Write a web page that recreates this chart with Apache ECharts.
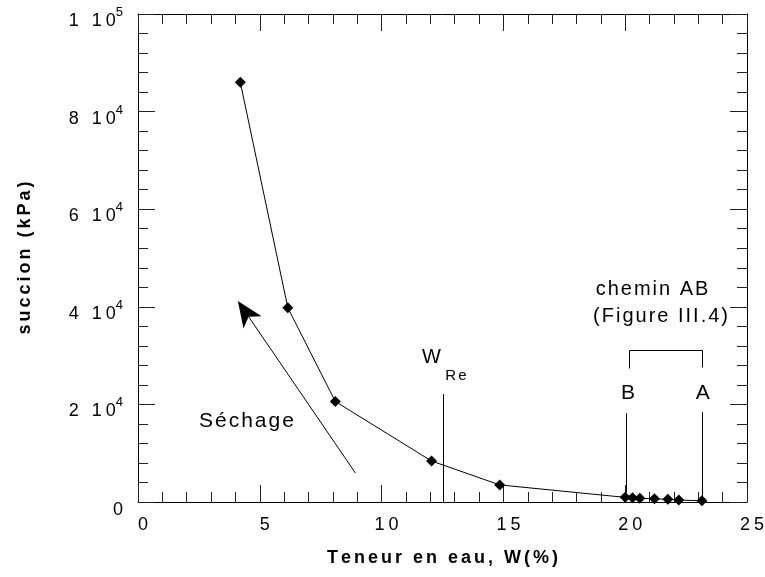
<!DOCTYPE html>
<html>
<head>
<meta charset="utf-8">
<script src="https://cdn.jsdelivr.net/npm/echarts@6/dist/echarts.min.js"></script>
<style>
  html, body { margin: 0; padding: 0; background: #fff; }
  #chart { width: 765px; height: 577px; }
</style>
</head>
<body>
<div id="chart"></div>
<script>
// Courbe de rétention : succion en fonction de la teneur en eau (séchage)
const teneurEau = [4.2, 6.15, 8.1, 12.05, 14.85, 20.0, 20.3, 20.6, 21.2, 21.75, 22.2, 23.15];
const succion   = [86000, 39800, 20600, 8400, 3500, 950, 850, 750, 650, 550, 400, 250];

// Graduations de l'axe des succions, écrites "m 10^e"
const yTickValues   = [0, 20000, 40000, 60000, 80000, 100000];
const yTickMantissa = ['0', '2', '4', '6', '8', '1'];
const yTickExponent = ['', '4', '4', '4', '4', '5'];

// Annotations, en unités (W %, kPa)
const wReLine   = [[12.5, 0], [12.5, 22100]];
const bLine     = [[20.05, 1900], [20.05, 18200]];
const aLine     = [[23.15, 1200], [23.15, 18400]];
const bracketAB = [[20.15, 27400], [20.15, 31100], [23.15, 31100], [23.15, 27600]];
const arrowTail = [8.93, 5900];
const arrowTip  = [4.1, 41200];
const textLabels = [
  { text: 'W',             at: [12.05, 29600], size: 20 },
  { text: 'Re',            at: [13.05, 25900], size: 15 },
  { text: 'B',             at: [20.12, 22300], size: 21 },
  { text: 'A',             at: [23.18, 22300], size: 21 },
  { text: 'chemin AB',     at: [21.1, 43600],  size: 20 },
  { text: '(Figure III.4)', at: [21.45, 38100], size: 20 },
  { text: 'Séchage',       at: [4.45, 16600],  size: 21 }
];

const FONT = "'Liberation Sans', Arial, Helvetica, sans-serif";

// Texte espacé : un fragment riche par caractère, avec un espace à droite
function spaced(str, key) {
  const chars = Array.from(str);
  return chars.map((c, i) => '{' + key + (i === chars.length - 1 ? 'E' : '') + '|' + c + '}').join('');
}
function spacedRich(key, base, ls) {
  const r = {};
  r[key] = Object.assign({}, base, { padding: [0, ls, 0, 0] });
  r[key + 'E'] = Object.assign({}, base);
  return r;
}

const tickBase = { fontSize: 18, fontFamily: FONT, color: '#000', verticalAlign: 'bottom' };
const yRich = Object.assign(
  spacedRich('t', tickBase, 4),
  {
    sup: { fontSize: 13, fontFamily: FONT, color: '#000', verticalAlign: 'bottom', padding: [0, 0, 11, 0] },
    z: Object.assign({}, tickBase, { padding: [8, 0, 0, 0] })
  }
);
const xRich = spacedRich('x', { fontSize: 18, fontFamily: FONT, color: '#000' }, 4);
const nameRich = spacedRich('n', { fontSize: 18, fontWeight: 'bold', fontFamily: FONT, color: '#000' }, 3);

const axisLineStyle = { show: true, onZero: false, lineStyle: { color: '#000', width: 1 } };
const majorTick = { show: true, inside: true, length: 17, lineStyle: { color: '#222', width: 1 } };
const minorTick = { show: true, splitNumber: 5, length: 10, lineStyle: { color: '#222', width: 1 } };

function yLabel(v) {
  const i = yTickValues.indexOf(v);
  if (i < 0) return '';
  if (!yTickExponent[i]) return '{z|' + yTickMantissa[i] + '}';
  return spaced(yTickMantissa[i] + ' 10', 't') + '{sup|' + yTickExponent[i] + '}';
}

function zrRich(size) {
  const base = { fontSize: size, fontFamily: FONT, fill: '#000', color: '#000' };
  return spacedRich('a', base, 2);
}

function renderAnnotations(params, api) {
  const c = p => api.coord(p);
  const crisp = v => Math.round(v) + 0.5;
  const children = [];
  const poly = (pts, vertical) => {
    const px = pts.map(c).map(p => vertical ? [crisp(p[0]), p[1]] : p);
    children.push({ type: 'polyline', shape: { points: px }, style: { stroke: '#000', lineWidth: 1, fill: null } });
  };
  poly(wReLine, true);
  poly(bLine, true);
  poly(aLine, true);
  const br = bracketAB.map(c).map(p => [crisp(p[0]), crisp(p[1])]);
  children.push({ type: 'polyline', shape: { points: br }, style: { stroke: '#000', lineWidth: 1, fill: null } });

  // Flèche de séchage
  const S = c(arrowTail), T = c(arrowTip);
  const dx = T[0] - S[0], dy = T[1] - S[1];
  const len = Math.sqrt(dx * dx + dy * dy);
  const ux = dx / len, uy = dy / len, nx = -uy, ny = ux;
  const headLen = 26, halfW = 11, notch = 19;
  const b1 = [T[0] - ux * headLen + nx * halfW, T[1] - uy * headLen + ny * halfW];
  const b2 = [T[0] - ux * headLen - nx * halfW, T[1] - uy * headLen - ny * halfW];
  const nP = [T[0] - ux * notch, T[1] - uy * notch];
  children.push({ type: 'line', shape: { x1: S[0], y1: S[1], x2: nP[0], y2: nP[1] }, style: { stroke: '#000', lineWidth: 1 } });
  children.push({ type: 'polygon', shape: { points: [T, b1, nP, b2] }, style: { fill: '#000' } });

  textLabels.forEach(t => {
    const p = c(t.at);
    children.push({
      type: 'text', x: p[0], y: p[1],
      style: { text: spaced(t.text, 'a'), rich: zrRich(t.size), align: 'center', verticalAlign: 'middle', fill: '#000' }
    });
  });
  return { type: 'group', children };
}

const chart = echarts.init(document.getElementById('chart'), null, { renderer: 'canvas' });
chart.setOption({
  animation: false,
  backgroundColor: '#fff',
  grid: { left: 138, right: 18, top: 14, bottom: 75, containLabel: false, outerBoundsMode: 'none' },
  xAxis: [
    {
      type: 'value', position: 'bottom', min: 0, max: 25, interval: 5,
      axisLine: axisLineStyle, axisTick: majorTick, minorTick: minorTick,
      splitLine: { show: false }, minorSplitLine: { show: false },
      axisLabel: { margin: 14, padding: [0, 0, 0, 10], formatter: v => spaced(String(v), 'x'), rich: xRich },
      name: spaced('Teneur en eau, W(%)', 'n'), nameLocation: 'middle', nameGap: 47,
      nameTextStyle: { rich: nameRich }
    },
    {
      type: 'value', position: 'top', min: 0, max: 25, interval: 5,
      axisLine: axisLineStyle, axisTick: majorTick, minorTick: minorTick,
      splitLine: { show: false }, minorSplitLine: { show: false },
      axisLabel: { show: false }
    }
  ],
  yAxis: [
    {
      type: 'value', position: 'left', min: 0, max: 100000, interval: 20000,
      axisLine: axisLineStyle, axisTick: majorTick, minorTick: minorTick,
      splitLine: { show: false }, minorSplitLine: { show: false },
      axisLabel: { margin: 15, padding: [8, 0, 0, 0], formatter: yLabel, rich: yRich },
      name: spaced('succion (kPa)', 'n'), nameLocation: 'middle', nameGap: 104, nameRotate: 90,
      nameTextStyle: { rich: nameRich }
    },
    {
      type: 'value', position: 'right', min: 0, max: 100000, interval: 20000,
      axisLine: axisLineStyle, axisTick: majorTick, minorTick: minorTick,
      splitLine: { show: false }, minorSplitLine: { show: false },
      axisLabel: { show: false }
    }
  ],
  series: [
    {
      type: 'line', xAxisIndex: 0, yAxisIndex: 0,
      data: teneurEau.map((w, i) => [w, succion[i]]),
      symbol: 'diamond', symbolSize: 11,
      lineStyle: { color: '#000', width: 1 },
      itemStyle: { color: '#000' },
      z: 4
    },
    {
      type: 'custom', coordinateSystem: 'cartesian2d', xAxisIndex: 0, yAxisIndex: 0,
      data: [[0, 0]], clip: false, silent: true, z: 5,
      renderItem: renderAnnotations
    }
  ]
});
</script>
</body>
</html>
